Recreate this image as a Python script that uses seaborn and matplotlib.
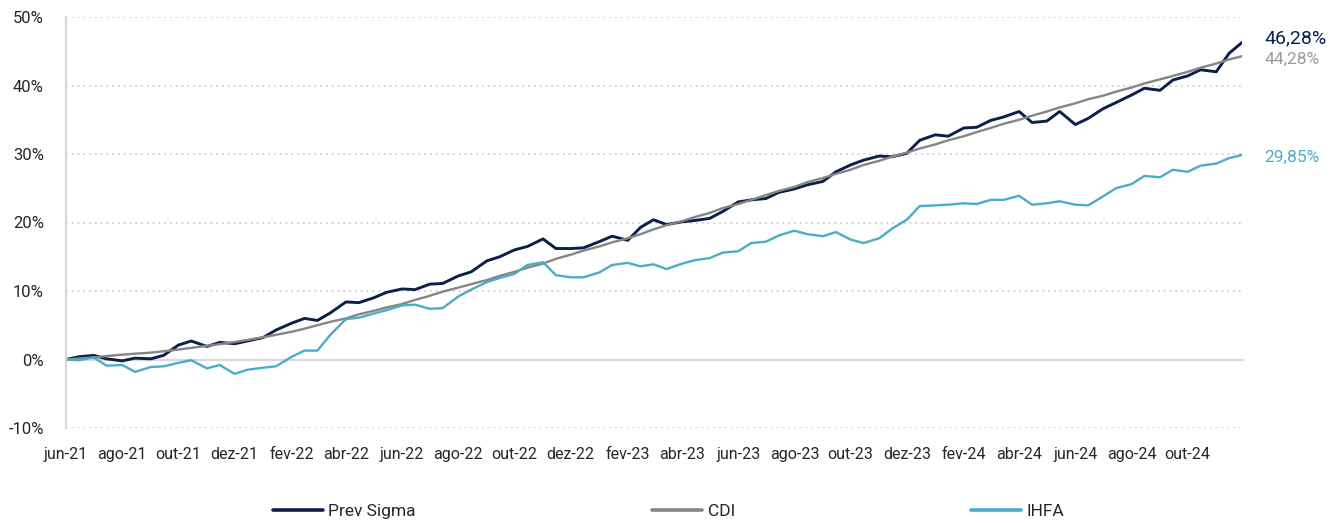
import numpy as np
import pandas as pd
import matplotlib
matplotlib.use("Agg")
import matplotlib.pyplot as plt
import seaborn as sns
from matplotlib.ticker import FuncFormatter, FixedLocator
from matplotlib.lines import Line2D

# ---------------- data (cumulative return, %) ----------------
series_names = ["Prev Sigma", "CDI", "IHFA"]

# semi-monthly observations (1st and 15th of each month), Jun-21 .. Nov-24, plus last day
prev_sigma = [0.0, 0.4, 0.6, 0.1, -0.2, 0.2, 0.1, 0.6, 2.1, 2.7, 1.9, 2.5, 2.3, 2.7, 3.2, 4.3,
              5.3, 6.0, 5.7, 6.8, 8.4, 8.3, 9.0, 9.8, 10.3, 10.2, 11.0, 11.1, 12.2, 12.8, 14.4, 15.0,
              16.0, 16.5, 17.6, 16.2, 16.2, 16.3, 17.2, 18.0, 17.4, 19.3, 20.4, 19.7, 20.1, 20.3, 20.6, 21.6,
              23.0, 23.3, 23.5, 24.4, 24.9, 25.5, 26.0, 27.4, 28.4, 29.1, 29.7, 29.6, 30.1, 32.0, 32.8, 32.6,
              33.8, 33.9, 34.9, 35.4, 36.2, 34.6, 34.8, 36.2, 34.3, 35.2, 36.6, 37.5, 38.6, 39.6, 39.3, 40.8,
              41.4, 42.3, 42.0, 44.7, 46.28]

cdi = [0.0, 0.15, 0.3, 0.5, 0.7, 0.85, 1.0, 1.2, 1.45, 1.7, 2.0, 2.25, 2.55, 2.85, 3.25, 3.6,
       4.05, 4.5, 5.0, 5.5, 6.0, 6.6, 7.1, 7.6, 8.1, 8.7, 9.3, 9.9, 10.5, 11.0, 11.6, 12.2,
       12.8, 13.4, 14.0, 14.7, 15.3, 15.9, 16.5, 17.1, 17.7, 18.3, 19.0, 19.6, 20.2, 20.8, 21.4, 22.1,
       22.7, 23.3, 24.0, 24.6, 25.2, 25.9, 26.5, 27.1, 27.7, 28.4, 29.0, 29.6, 30.2, 30.8, 31.4, 32.0,
       32.6, 33.2, 33.8, 34.4, 35.0, 35.6, 36.2, 36.8, 37.4, 38.0, 38.5, 39.1, 39.7, 40.3, 40.9, 41.4,
       42.0, 42.6, 43.2, 43.8, 44.28]

ihfa = [0.0, -0.1, 0.3, -0.9, -0.8, -1.8, -1.1, -1.0, -0.5, -0.1, -1.3, -0.8, -2.1, -1.5, -1.2, -1.0,
        0.4, 1.3, 1.3, 3.6, 5.9, 6.1, 6.7, 7.2, 7.9, 8.0, 7.4, 7.5, 9.2, 10.2, 11.3, 11.9,
        12.5, 13.8, 14.2, 12.3, 12.0, 12.0, 12.7, 13.8, 14.1, 13.6, 13.9, 13.2, 14.0, 14.5, 14.8, 15.6,
        15.8, 17.0, 17.2, 18.1, 18.8, 18.3, 18.0, 18.6, 17.5, 17.0, 17.7, 19.1, 20.4, 22.4, 22.5, 22.6,
        22.8, 22.7, 23.3, 23.3, 23.9, 22.6, 22.8, 23.1, 22.6, 22.5, 23.8, 25.0, 25.6, 26.8, 26.6, 27.7,
        27.4, 28.3, 28.6, 29.4, 29.85]

first_month = "2021-06-01"
last_month = "2024-11-01"
last_day = "2024-11-29"

tick_labels = ["jun-21", "ago-21", "out-21", "dez-21", "fev-22", "abr-22", "jun-22", "ago-22",
               "out-22", "dez-22", "fev-23", "abr-23", "jun-23", "ago-23", "out-23", "dez-23",
               "fev-24", "abr-24", "jun-24", "ago-24", "out-24"]

y_ticks = [-10, 0, 10, 20, 30, 40, 50]

colors = {"Prev Sigma": "#0b1f4b", "CDI": "#858585", "IHFA": "#4bacc6"}
label_colors = {"Prev Sigma": "#0b1f4b", "CDI": "#9a9a9a", "IHFA": "#4bacc6"}
widths = {"Prev Sigma": 2.1, "CDI": 1.7, "IHFA": 1.7}

# ---------------- build frame ----------------
ms = pd.date_range(first_month, last_month, freq="MS")
dates = []
for d in ms:
    dates.append(d)
    dates.append(d + pd.Timedelta(days=14))
dates.append(pd.Timestamp(last_day))

values = {"Prev Sigma": prev_sigma, "CDI": cdi, "IHFA": ihfa}
frames = [pd.DataFrame({"date": dates, "value": values[n], "series": n}) for n in series_names]
df = pd.concat(frames, ignore_index=True)

# ---------------- plot ----------------
sns.set_theme(style="white")
plt.rcParams["font.family"] = ["Roboto", "DejaVu Sans"]

fig = plt.figure(figsize=(13.37, 5.23), dpi=100)
ax = fig.add_axes([66 / 1337, 1 - 428 / 523, (1242 - 66) / 1337, (428 - 17) / 523])

for n in series_names:
    sub = df[df["series"] == n]
    sns.lineplot(data=sub, x="date", y="value", color=colors[n], linewidth=widths[n],
                 ax=ax, label=n, legend=False)

ax.set_xlim(pd.Timestamp(first_month), pd.Timestamp(last_day))
ax.set_ylim(-10, 50)
ax.set_xlabel("")
ax.set_ylabel("")

tick_dates = pd.date_range(first_month, periods=len(tick_labels), freq="2MS")
ax.xaxis.set_major_locator(FixedLocator(matplotlib.dates.date2num(tick_dates)))
ax.set_xticklabels(tick_labels)
ax.set_yticks(y_ticks)
ax.yaxis.set_major_formatter(FuncFormatter(lambda v, p: f"{int(round(v))}%"))

for s in ["top", "right"]:
    ax.spines[s].set_visible(False)
ax.spines["left"].set_color("#d9d9d9")
ax.spines["left"].set_linewidth(1.6)
ax.spines["bottom"].set_position(("data", 0))
ax.spines["bottom"].set_color("#d9d9d9")
ax.spines["bottom"].set_linewidth(1.6)
ax.spines["bottom"].set_zorder(1)

ax.yaxis.grid(True, linestyle=(0, (1, 2.2)), color="#cfcfcf", linewidth=1.3)
ax.xaxis.grid(False)
ax.set_axisbelow(True)

ax.tick_params(axis="y", length=5, width=1.3, color="#d9d9d9", pad=11,
               labelsize=12, labelcolor="#262626")
ax.tick_params(axis="x", length=5, width=1.3, color="#d9d9d9", direction="out", pad=58,
               labelsize=11.5, labelcolor="#262626")

# end-of-line labels
offsets = {"Prev Sigma": (16, 3), "CDI": (16, -2), "IHFA": (16, -2)}
sizes = {"Prev Sigma": 14, "CDI": 12.5, "IHFA": 12.5}
for n in series_names:
    v = values[n][-1]
    txt = f"{v:.2f}".replace(".", ",") + "%"
    ax.annotate(txt, xy=(dates[-1], v), xytext=offsets[n], textcoords="offset points",
                ha="left", va="center", color=label_colors[n], fontsize=sizes[n],
                annotation_clip=False)

handles = [Line2D([0], [0], color=colors[n], linewidth=2.6) for n in series_names]
fig.legend(handles, series_names, loc="center", bbox_to_anchor=(0.5, 1 - 511 / 523),
           ncol=3, frameon=False, handlelength=2.9, handletextpad=0.3,
           columnspacing=13.6, fontsize=12.5, labelcolor="#262626")

fig.savefig("out.png", dpi=100)
